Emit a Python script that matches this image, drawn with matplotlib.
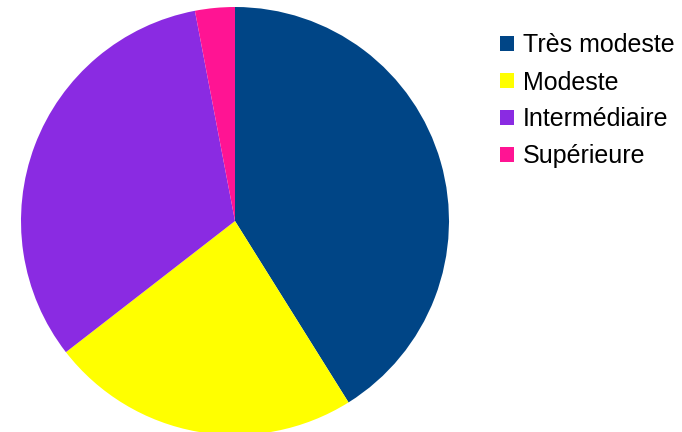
import matplotlib
matplotlib.use('Agg')
import matplotlib.pyplot as plt

# valeurs (%)
labels = ['Très modeste', 'Modeste', 'Intermédiaire', 'Supérieure']
values = [41.1, 23.4, 32.5, 3.0]
colors = ['#004586', '#ffff00', '#8a2be2', '#ff1493']

plt.rcParams['font.family'] = ['Liberation Sans', 'DejaVu Sans']

fig = plt.figure(figsize=(6.82, 4.32), dpi=100)
ax = fig.add_axes([21/682, -3/432, 428/682, 428/432])
wedges, _ = ax.pie(values, colors=colors, startangle=90, counterclock=False,
                   radius=1, wedgeprops=dict(linewidth=0))
ax.set_xlim(-1, 1)
ax.set_ylim(-1, 1)
ax.set_aspect('equal')
ax.axis('off')

fig.legend(wedges, labels, loc='upper left', bbox_to_anchor=(500/682, 1 - 33.5/432),
           frameon=False, fontsize=18, handlelength=0.57, handleheight=0.57,
           handletextpad=0.35, labelspacing=0.52, borderpad=0, borderaxespad=0)

fig.savefig('out.png', dpi=100)
